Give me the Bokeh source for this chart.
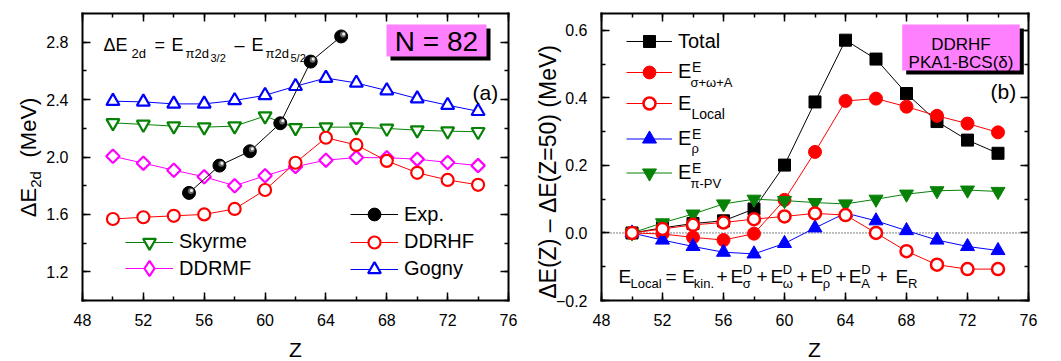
from math import pi

from bokeh.embed import file_html
from bokeh.layouts import row
from bokeh.models import (BoxAnnotation, CustomJSTickFormatter, Label, Legend, LegendItem,
                          LinearAxis, Range1d, SingleIntervalTicker)
from bokeh.plotting import figure
from bokeh.resources import INLINE

FONT = "Liberation Sans"
PINK = "#ff80ff"
GREEN = "#078207"
H = 361

# ---------------- panel (a): spin-orbit splitting of pi 2d, N = 82 ----------------
z_calc = [50, 52, 54, 56, 58, 60, 62, 64, 66, 68, 70, 72, 74]
z_exp = [55, 57, 59, 61, 63, 65]
exp_2d = [1.75, 1.94, 2.04, 2.235, 2.665, 2.84]
skyrme_2d = [2.238, 2.227, 2.215, 2.208, 2.215, 2.285, 2.203, 2.208, 2.208, 2.199, 2.187, 2.180, 2.176]
ddrhf_2d = [1.568, 1.58, 1.59, 1.60, 1.638, 1.77, 1.96, 2.134, 2.084, 1.973, 1.89, 1.84, 1.806]
ddrmf_2d = [2.005, 1.957, 1.908, 1.862, 1.80, 1.869, 1.933, 1.978, 1.996, 1.995, 1.985, 1.962, 1.94]
gogny_2d = [2.389, 2.384, 2.370, 2.370, 2.394, 2.430, 2.493, 2.550, 2.516, 2.463, 2.407, 2.361, 2.319]

# ---------------- panel (b): energy decomposition relative to Z = 50 ----------------
total_b = [0.0, 0.015, 0.028, 0.036, 0.071, 0.201, 0.388, 0.571, 0.515, 0.413, 0.33, 0.275, 0.236]
sigma_omega_a_b = [0.0, -0.003, -0.013, -0.021, -0.002, 0.098, 0.24, 0.391, 0.398, 0.374, 0.347, 0.324, 0.298]
local_b = [0.0, 0.012, 0.024, 0.031, 0.041, 0.049, 0.058, 0.053, 0.0, -0.054, -0.094, -0.107, -0.107]
rho_b = [0.0, -0.021, -0.04, -0.057, -0.062, -0.031, 0.015, 0.059, 0.036, 0.007, -0.021, -0.04, -0.052]
pi_pv_b = [0.0, 0.03, 0.056, 0.086, 0.10, 0.096, 0.09, 0.086, 0.10, 0.115, 0.125, 0.127, 0.123]

Z_LIM = (48, 76)
A_LIM = (1.0, 3.0)
B_LIM = (-0.2, 0.65)

# text anchors sit a little above the drawn baseline; this lifts them back
SHIFT = 0.28

tick_fmt = CustomJSTickFormatter(code="""
    if (Math.abs(tick) < 1e-9) { return "0.0"; }
    return tick.toFixed(1).replace("-", "\u2212");
""")
blank_fmt = CustomJSTickFormatter(code="return '';")


def make_fig(width, offset, box, ylim, y_step):
    """Whole canvas is the frame; the plot box is drawn with axes pinned to the limits."""
    bx0, bx1, by0, by1 = box
    lx0, lx1 = bx0 - offset, bx1 - offset
    sx = (lx1 - lx0) / (Z_LIM[1] - Z_LIM[0])
    x0 = Z_LIM[0] - lx0 / sx
    sy = (by1 - by0) / (ylim[1] - ylim[0])
    y1 = ylim[1] + by0 / sy
    p = figure(width=width, height=H,
               x_range=Range1d(x0, x0 + width / sx), y_range=Range1d(y1 - H / sy, y1),
               output_backend="svg", toolbar_location=None,
               min_border=0, min_border_left=0, min_border_right=0,
               min_border_top=0, min_border_bottom=0,
               x_axis_location=None, y_axis_location=None)
    p.xgrid.visible = False
    p.ygrid.visible = False
    p.outline_line_color = None
    p.background_fill_color = "white"
    p.border_fill_color = "white"
    xt = SingleIntervalTicker(interval=4, num_minor_ticks=2)
    yt = SingleIntervalTicker(interval=y_step, num_minor_ticks=2)
    specs = (("below", xt, ylim[0], Z_LIM, None),
             ("above", xt, ylim[1], Z_LIM, blank_fmt),
             ("left", yt, Z_LIM[0], ylim, tick_fmt),
             ("right", yt, Z_LIM[1], ylim, blank_fmt))
    for place, ticker, loc, bounds, fmt in specs:
        ax = LinearAxis(ticker=ticker, fixed_location=loc, bounds=bounds)
        if fmt is not None:
            ax.formatter = fmt
        ax.axis_line_width = 2
        ax.axis_line_color = "black"
        ax.axis_line_cap = "square"
        ax.major_tick_in = 8
        ax.major_tick_out = 0
        ax.minor_tick_in = 4
        ax.minor_tick_out = 0
        ax.major_tick_line_width = 1.5
        ax.minor_tick_line_width = 1.5
        ax.major_label_text_font = FONT
        ax.major_label_text_color = "black"
        ax.major_label_text_font_size = "16px"
        ax.major_label_standoff = 13 if place == "below" else (14 if place == "left" else 0)
        p.add_layout(ax, place)
    return p


def put(p, off, text, px, py, size, align="left", angle=0.0):
    if angle:
        x, y = px - off - SHIFT * size, H - py
    else:
        x, y = px - off, H - py + SHIFT * size
    p.add_layout(Label(x=x, y=y, x_units="screen", y_units="screen",
                       text=text, text_font=FONT, text_font_size=f"{size}px",
                       text_color="black", text_align=align, text_baseline="alphabetic",
                       angle=angle))


def key(p, off, renderers, text, px, py, width, msize):
    gh = msize / 0.4
    lg = Legend(items=[LegendItem(label=text, renderers=renderers)],
                location=(px - off, H - py - gh / 2),
                glyph_width=width, glyph_height=round(gh), label_height=0, label_width=0,
                label_standoff=6, padding=0, margin=0, spacing=0,
                border_line_color=None, background_fill_alpha=0,
                label_text_font=FONT, label_text_font_size="20px", label_text_color="black")
    p.add_layout(lg)


def tag_box(p, off, x0, x1, y0, y1):
    for dx, color in ((4, "black"), (0, PINK)):
        p.add_layout(BoxAnnotation(left=x0 + dx - off, right=x1 + dx - off,
                                   top=H - y0 - dx, bottom=H - y1 - dx,
                                   left_units="screen", right_units="screen",
                                   top_units="screen", bottom_units="screen",
                                   fill_color=color, fill_alpha=1, line_color=None))


def series(p, x, y, color, marker, size, fill, lw=2.2, angle=0.0):
    ln = p.line(x, y, line_color=color, line_width=1)
    sc = p.scatter(x, y, marker=marker, size=size, angle=angle, line_color=color,
                   line_width=lw, fill_color=fill)
    return ln, sc


# ---------------- panel (a) ----------------
A_OFF = 0
pa = make_fig(520, A_OFF, (82, 508, 13, 300), A_LIM, 0.4)
g_ln, g_sc = series(pa, z_calc, gogny_2d, "blue", "triangle", 13, "white")
s_ln, s_sc = series(pa, z_calc, skyrme_2d, GREEN, "inverted_triangle", 13, "white")
# diamond glyph for the key, sitting under the rotated squares
m_key = pa.scatter(z_calc, ddrmf_2d, marker="diamond", size=9, line_color="magenta",
                   line_width=2.2, fill_color="white")
m_ln, m_sc = series(pa, z_calc, ddrmf_2d, "magenta", "square", 9.5, "white", angle=pi / 4)
h_ln, h_sc = series(pa, z_calc, ddrhf_2d, "red", "circle", 12, "white")
e_ln = pa.line(z_exp, exp_2d, line_color="black", line_width=1)
e_sc = pa.scatter(z_exp, exp_2d, marker="circle", size=13, fill_color="black", line_color="black")
# sphere shading of the experimental points
dz, dv = 1.9 * 28 / 426, 1.9 * 2.0 / 287
pa.scatter([z + dz for z in z_exp], [v + dv for v in exp_2d], marker="circle", size=6,
           fill_color="#6a6a6a", line_color=None)
pa.scatter([z + 1.3 * dz for z in z_exp], [v + 1.3 * dv for v in exp_2d], marker="circle", size=3,
           fill_color="#f4f4f4", line_color=None)

key(pa, A_OFF, [s_ln, s_sc], "Skyrme", 125, 241.7, 48, 13)
key(pa, A_OFF, [m_ln, m_key], "DDRMF", 125, 268.3, 48, 15)
key(pa, A_OFF, [e_ln, e_sc], "Exp.", 350, 214, 48, 13)
key(pa, A_OFF, [h_ln, h_sc], "DDRHF", 350, 241.7, 48, 12)
key(pa, A_OFF, [g_ln, g_sc], "Gogny", 350, 268.3, 48, 13)

tag_box(pa, A_OFF, 386, 486, 24, 56)
put(pa, A_OFF, "N = 82", 436, 49.3, 28, align="center")
put(pa, A_OFF, "(a)", 472, 98, 21)

for text, x, y, size in (("\u0394E", 103, 50, 18), ("2d", 131, 57, 13), ("=", 154, 50, 18),
                         ("E", 171, 50, 18), ("\u03c02d", 185, 57, 13), ("3/2", 210, 61, 11),
                         ("\u2013", 234, 50, 18), ("E", 251, 50, 18), ("\u03c02d", 265, 57, 13),
                         ("5/2", 290, 61, 11)):
    put(pa, A_OFF, text, x, y, size)

put(pa, A_OFF, "Z", 295, 355, 21, align="center")
put(pa, A_OFF, "\u0394E", 34, 216.7, 22, angle=pi / 2)
put(pa, A_OFF, "2d", 39, 187.3, 15, angle=pi / 2)
put(pa, A_OFF, "(MeV)", 34, 157, 22, angle=pi / 2)

# ---------------- panel (b) ----------------
B_OFF = 520
pb = make_fig(541, B_OFF, (601, 1028, 13, 300), B_LIM, 0.2)
pb.line(list(Z_LIM), [0, 0], line_color="black", line_width=1, line_dash="1 2")
t_ln, t_sc = series(pb, z_calc, total_b, "black", "square", 12, "black", lw=1)
a_ln, a_sc = series(pb, z_calc, sigma_omega_a_b, "red", "circle", 13, "red", lw=1)
r_ln, r_sc = series(pb, z_calc, rho_b, "blue", "triangle", 14, "blue", lw=1)
p_ln, p_sc = series(pb, z_calc, pi_pv_b, GREEN, "inverted_triangle", 14, GREEN, lw=1)
l_ln, l_sc = series(pb, z_calc, local_b, "red", "circle", 12, "white", lw=2.5)

key(pb, B_OFF, [t_ln, t_sc], "Total", 626, 41, 46, 12)
key(pb, B_OFF, [a_ln, a_sc], "E", 626, 71.7, 46, 13)
key(pb, B_OFF, [l_ln, l_sc], "E", 626, 103.3, 46, 12)
key(pb, B_OFF, [r_ln, r_sc], "E", 626, 138.3, 46, 14)
key(pb, B_OFF, [p_ln, p_sc], "E", 626, 172.7, 46, 14)
put(pb, B_OFF, "E", 691.5, 70, 14)
put(pb, B_OFF, "\u03c3+\u03c9+A", 690, 86, 13)
put(pb, B_OFF, "Local", 691, 117, 14)
put(pb, B_OFF, "E", 691.5, 137, 14)
put(pb, B_OFF, "\u03c1", 691, 152, 13)
put(pb, B_OFF, "E", 691.5, 171.5, 14)
put(pb, B_OFF, "\u03c0-PV", 690, 186.7, 13)

tag_box(pb, B_OFF, 901.7, 1019.3, 24, 70)
put(pb, B_OFF, "DDRHF", 960.5, 48.3, 17, align="center")
put(pb, B_OFF, "PKA1-BCS(\u03b4)", 960.5, 67, 17, align="center")
put(pb, B_OFF, "(b)", 990, 97, 21)

# E_Local decomposition
MAIN, SUB, SUP = 281, 287, 273
for text, x, y, size in (("E", 618, MAIN, 19), ("Local", 630, SUB, 13), ("=", 665, MAIN, 19),
                         ("E", 681.7, MAIN, 19), ("kin.", 693.3, SUB, 13), ("+", 716, MAIN, 19),
                         ("E", 730, MAIN, 19), ("D", 742.3, SUP, 13), ("\u03c3", 742.3, SUB, 13),
                         ("+", 756, MAIN, 19), ("E", 770, MAIN, 19), ("D", 782.3, SUP, 13),
                         ("\u03c9", 782.3, SUB, 13), ("+", 796, MAIN, 19), ("E", 810, MAIN, 19),
                         ("D", 822.3, SUP, 13), ("\u03c1", 822.3, SUB, 13), ("+", 835, MAIN, 19),
                         ("E", 848.3, MAIN, 19), ("D", 860.7, SUP, 13), ("A", 860.7, SUB, 13),
                         ("+", 876, MAIN, 19), ("E", 895, MAIN, 19), ("R", 907.5, SUB, 13)):
    put(pb, B_OFF, text, x, y, size)

put(pb, B_OFF, "Z", 814, 355, 21, align="center")
put(pb, B_OFF, "\u0394E(Z) \u2013 \u0394E(Z=50)   (MeV)", 554, 165, 23, align="center", angle=pi / 2)

layout = row(pa, pb)
open("out.html", "w").write(file_html(layout, INLINE))
